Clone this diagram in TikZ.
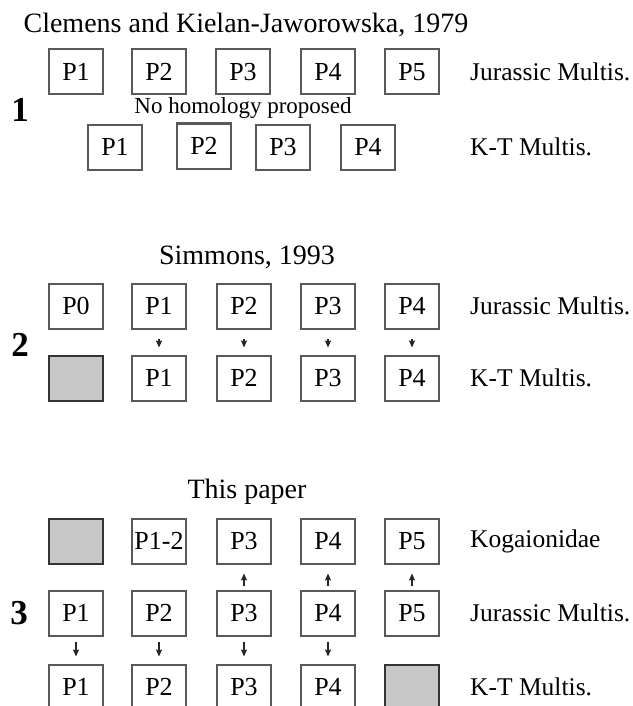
\documentclass[tikz,border=0pt]{standalone}
\usepackage{fontspec}
\setmainfont{Liberation Serif}
\usetikzlibrary{arrows.meta}

\begin{document}
\begin{tikzpicture}[x=1pt, y=-1pt,
    tooth/.style={draw=black!65, line width=2pt, minimum width=54pt, minimum height=45pt, inner sep=0pt, font=\fontsize{26}{28}\selectfont},
    lost/.style={tooth, draw=black!80, fill=black!22},
    taxon/.style={anchor=west, inner sep=0pt, font=\fontsize{25.5}{28}\selectfont},
    study/.style={inner sep=0pt, font=\fontsize{28}{30}\selectfont},
    panel/.style={inner sep=0pt, font=\fontsize{35}{36}\selectfont\bfseries},
    homol/.style={-{Stealth[length=7pt,width=6pt,inset=1pt]}, line width=1.3pt, draw=black!85}]
    \useasboundingbox (0,0) rectangle (632,706);

    \node[study] (cite1) at (246,25) {Clemens and Kielan-Jaworowska, 1979};
    \node[tooth] (aj1) at (76,72) {P1};
    \node[tooth] (aj2) at (159,72) {P2};
    \node[tooth] (aj3) at (243,72) {P3};
    \node[tooth] (aj4) at (328,72) {P4};
    \node[tooth] (aj5) at (412,72) {P5};
    \node[taxon] (ajlab) at (470,72) {Jurassic Multis.};
    \node[panel] (num1) at (20,110) {1};
    \node[inner sep=0pt, font=\fontsize{23}{25}\selectfont] (nohom) at (243,108) {No homology proposed};
    \node[tooth] (ak1) at (115,147) {P1};
    \node[tooth] (ak2) at (204,146) {P2};
    \node[tooth] (ak3) at (283,147) {P3};
    \node[tooth] (ak4) at (368,147) {P4};
    \node[taxon] (aklab) at (470,147) {K-T Multis.};

    \node[study] (cite2) at (247,257) {Simmons, 1993};
    \node[tooth] (bj0) at (76,306) {P0};
    \node[tooth] (bj1) at (159,306) {P1};
    \node[tooth] (bj2) at (244,306) {P2};
    \node[tooth] (bj3) at (328,306) {P3};
    \node[tooth] (bj4) at (412,306) {P4};
    \node[taxon] (bjlab) at (470,306) {Jurassic Multis.};
    \node[panel] (num2) at (20,345) {2};
    \node[lost] (bk0) at (76,378) {};
    \node[tooth] (bk1) at (159,378) {P1};
    \node[tooth] (bk2) at (244,378) {P2};
    \node[tooth] (bk3) at (328,378) {P3};
    \node[tooth] (bk4) at (412,378) {P4};
    \node[taxon] (bklab) at (470,378) {K-T Multis.};
    \draw[homol, shorten <=9pt, shorten >=7pt] (bj1) -- (bk1);
    \draw[homol, shorten <=9pt, shorten >=7pt] (bj2) -- (bk2);
    \draw[homol, shorten <=9pt, shorten >=7pt] (bj3) -- (bk3);
    \draw[homol, shorten <=9pt, shorten >=7pt] (bj4) -- (bk4);

    \node[study] (cite3) at (247,492) {This paper};
    \node[lost] (cg1) at (76,541) {};
    \node[tooth] (cg2) at (159,541) {P1-2};
    \node[tooth] (cg3) at (244,541) {P3};
    \node[tooth] (cg4) at (328,541) {P4};
    \node[tooth] (cg5) at (412,541) {P5};
    \node[taxon] (cglab) at (470,541) {Kogaionidae};
    \node[panel] (num3) at (19,613) {3};
    \node[tooth] (cj1) at (76,613) {P1};
    \node[tooth] (cj2) at (159,613) {P2};
    \node[tooth] (cj3) at (244,613) {P3};
    \node[tooth] (cj4) at (328,613) {P4};
    \node[tooth] (cj5) at (412,613) {P5};
    \node[taxon] (cjlab) at (470,613) {Jurassic Multis.};
    \node[tooth] (ck1) at (76,687) {P1};
    \node[tooth] (ck2) at (159,687) {P2};
    \node[tooth] (ck3) at (244,687) {P3};
    \node[tooth] (ck4) at (328,687) {P4};
    \node[lost] (ck5) at (412,687) {};
    \node[taxon] (cklab) at (470,687) {K-T Multis.};
    \draw[homol, shorten <=4pt, shorten >=9pt] (cj3) -- (cg3);
    \draw[homol, shorten <=4pt, shorten >=9pt] (cj4) -- (cg4);
    \draw[homol, shorten <=4pt, shorten >=9pt] (cj5) -- (cg5);
    \draw[homol, shorten <=5pt, shorten >=7pt] (cj1) -- (ck1);
    \draw[homol, shorten <=5pt, shorten >=7pt] (cj2) -- (ck2);
    \draw[homol, shorten <=5pt, shorten >=7pt] (cj3) -- (ck3);
    \draw[homol, shorten <=5pt, shorten >=7pt] (cj4) -- (ck4);
\end{tikzpicture}
\end{document}
